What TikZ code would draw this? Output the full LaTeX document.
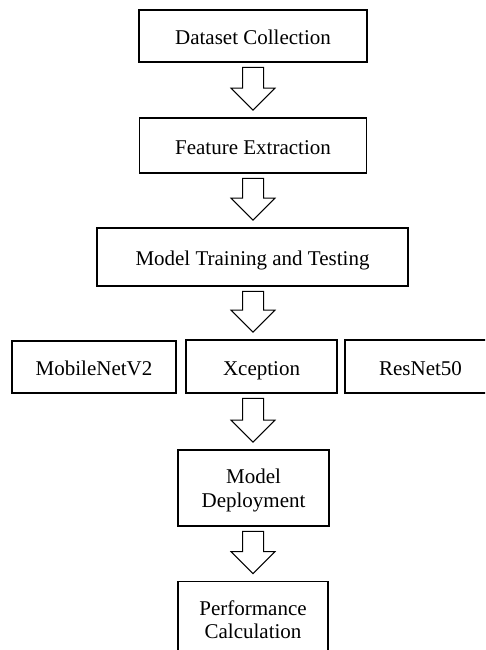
\documentclass[tikz,border=0pt]{standalone}
\usepackage{fontspec}
\setmainfont{Liberation Serif}
\usetikzlibrary{calc}
\tikzset{
  box/.style={draw, line width=1.8pt, inner sep=0pt, align=center,
    font=\fontsize{21}{23.5}\selectfont},
  one/.style={text height=18.5pt, text depth=1pt},
  two/.style={text height=40pt, text depth=2pt},
  blockarrow/.style={draw, line width=1pt, fill=white, line join=miter}
}
\newcommand\blockarr[3]{%
  \draw[blockarrow] let \p1=(#1.south), \p2=(#2.north), \p3=(#3.center) in
    (\x3-10.5pt,\y1-4.5pt) -- (\x3+10.5pt,\y1-4.5pt) -- (\x3+10.5pt,\y2+29pt)
    -- (\x3+22pt,\y2+29pt) -- (\x3,\y2+7pt) -- (\x3-22pt,\y2+29pt)
    -- (\x3-10.5pt,\y2+29pt) -- cycle;}
\begin{document}
\begin{tikzpicture}[x=1pt,y=-1pt]
  \useasboundingbox[fill=white] (0,0) rectangle (485,650);
  \clip (0,0) rectangle (485,650);
  \node[box, one, minimum width=228pt, minimum height=52pt] (b1) at (253,36) {Dataset Collection};
  \node[box, one, minimum width=227pt, minimum height=55pt] (b2) at (253,145.5) {Feature Extraction};
  \node[box, one, minimum width=311pt, minimum height=58pt] (b3) at (252.5,257) {Model Training and Testing};
  \node[box, one, minimum width=164pt, minimum height=52pt] (mob) at (94,367) {MobileNetV2};
  \node[box, one, minimum width=151pt, minimum height=53pt] (xce) at (261.5,366.5) {Xception};
  \node[box, one, minimum width=151pt, minimum height=53pt, text width=139pt] (res) at (420.5,366.5) {ResNet50};
  \node[box, two, minimum width=151pt, minimum height=76pt] (dep) at (253.5,488) {Model\\Deployment};
  \node[box, two, minimum width=150pt, minimum height=76pt] (perf) at (253,619.5) {Performance\\Calculation};
  \blockarr{b1}{b2}{b1}
  \blockarr{b2}{b3}{b1}
  \blockarr{b3}{xce}{b1}
  \blockarr{xce}{dep}{b1}
  \blockarr{dep}{perf}{b1}
\end{tikzpicture}
\end{document}
